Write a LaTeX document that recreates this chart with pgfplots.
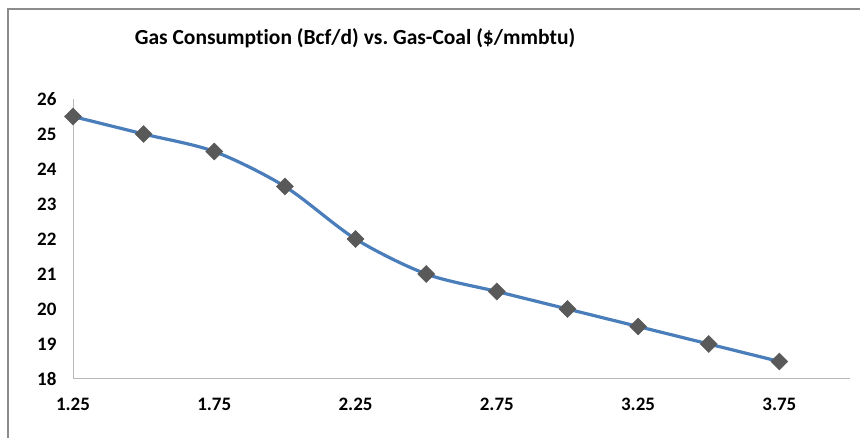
\documentclass[border=0pt]{standalone}
\usepackage{pgfplots}
\pgfplotsset{compat=1.18}
\usepackage{fontspec}
\setmainfont[Ligatures=NoCommon]{Carlito}
\definecolor{lineblue}{HTML}{4A7EBB}
\definecolor{markgray}{HTML}{595959}
\frenchspacing
\begin{document}
\begin{tikzpicture}
\path[use as bounding box] (0,0) rectangle (860pt,438pt);
\draw[color=gray!90, line width=1.5pt] (8pt,-2pt) -- (8pt,429pt) -- (862pt,429pt);
\node[font=\bfseries\fontsize{21.5}{21.5}\selectfont] at (355pt,400pt) {Gas Consumption (Bcf/d) vs. Gas-Coal (\$/mmbtu)};
\begin{axis}[
  at={(73pt,59pt)}, anchor=south west,
  scale only axis, width=777pt, height=280pt,
  xmin=1.25, xmax=4.0, ymin=18, ymax=26,
  axis x line=bottom, axis y line=left,
  axis line style={-, draw=gray!55, line width=1pt},
  xtick={1.25,1.75,2.25,2.75,3.25,3.75},
  xticklabels={1.25,1.75,2.25,2.75,3.25,3.75},
  ytick={18,19,20,21,22,23,24,25,26},
  yticklabels={18,19,20,21,22,23,24,25,26},
  major tick length=0pt,
  tick label style={font=\bfseries\fontsize{19}{19}\selectfont},
  xticklabel style={yshift=-16pt},
  yticklabel style={xshift=-13pt},
  clip=false,
]
\addplot[color=lineblue, line width=3.2pt, smooth, tension=0.5,
  mark=square*, mark size=6pt,
  mark options={rotate=45, fill=markgray, draw=markgray, line width=0.5pt}]
coordinates {
(1.25,25.5) (1.5,25) (1.75,24.5) (2.0,23.5) (2.25,22) (2.5,21)
(2.75,20.5) (3.0,20) (3.25,19.5) (3.5,19) (3.75,18.5)
};
\end{axis}
\end{tikzpicture}
\end{document}
